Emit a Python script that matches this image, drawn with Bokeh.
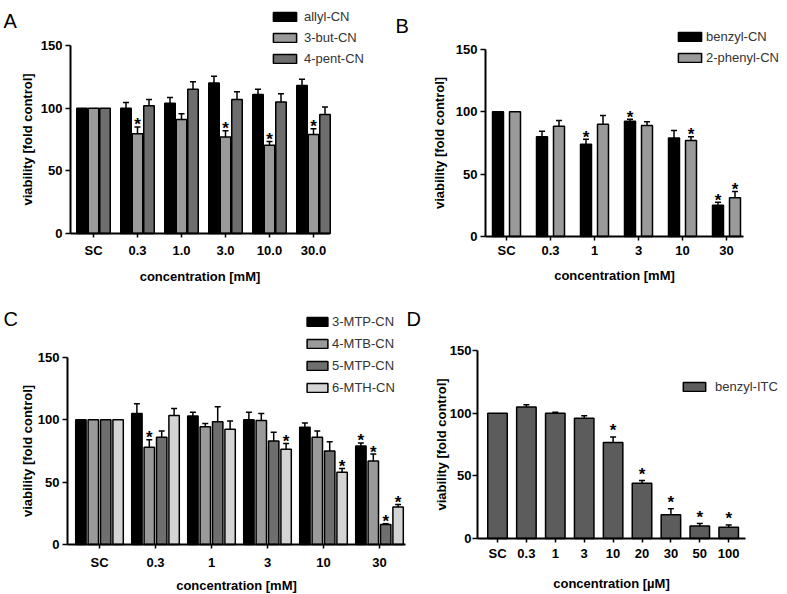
from bokeh.plotting import figure
from bokeh.models import (Range1d, FixedTicker, Legend, LegendItem, Label, Whisker,
                          TeeHead, ColumnDataSource, CustomJSTickFormatter)
from bokeh.layouts import column, row
from bokeh.embed import file_html
from bokeh.resources import INLINE
from bokeh.core.properties import value

FONT = "Liberation Sans"

# ---------------- data ----------------
# Panel A
A_groups = ["SC", "0.3", "1.0", "3.0", "10.0", "30.0"]
A_names = ["allyl-CN", "3-but-CN", "4-pent-CN"]
A_allyl = [100, 100, 104, 120, 111, 118]
A_allyl_err = [0, 4.5, 4.5, 5.5, 4, 5]
A_allyl_sig = [0, 0, 0, 0, 0, 0]
A_but = [100, 79.5, 91, 77, 70.5, 79]
A_but_err = [0, 5.5, 4.5, 5, 3, 4.5]
A_but_sig = [0, 1, 0, 1, 1, 1]
A_pent = [100, 102, 115, 107, 105, 95]
A_pent_err = [0, 5, 6, 6, 6.5, 6]
A_pent_sig = [0, 0, 0, 0, 0, 0]

# Panel B
B_groups = ["SC", "0.3", "1", "3", "10", "30"]
B_names = ["benzyl-CN", "2-phenyl-CN"]
B_benzyl = [100, 80, 74, 92.5, 79, 25]
B_benzyl_err = [0, 4.5, 4, 1.5, 6, 2.5]
B_benzyl_sig = [0, 0, 1, 1, 0, 1]
B_phenyl = [100, 88.5, 90, 89, 77, 31]
B_phenyl_err = [0, 4.5, 7, 3, 3, 5]
B_phenyl_sig = [0, 0, 0, 0, 1, 1]

# Panel C
C_groups = ["SC", "0.3", "1", "3", "10", "30"]
C_names = ["3-MTP-CN", "4-MTB-CN", "5-MTP-CN", "6-MTH-CN"]
C_mtp3 = [100, 105, 103, 100, 94, 79]
C_mtp3_err = [0, 8, 3, 6, 3.5, 2.5]
C_mtp3_sig = [0, 0, 0, 0, 0, 1]
C_mtb4 = [100, 78, 94.5, 99.5, 86, 67]
C_mtb4_err = [0, 6, 2.5, 5.5, 5, 5.5]
C_mtb4_sig = [0, 1, 0, 0, 0, 1]
C_mtp5 = [100, 86, 98.5, 83, 75, 16]
C_mtp5_err = [0, 5, 12, 7, 7.5, 0.7]
C_mtp5_sig = [0, 0, 0, 0, 0, 1]
C_mth6 = [100, 103.5, 92.5, 76.5, 58, 30]
C_mth6_err = [0, 5.5, 6.5, 4.5, 3, 2]
C_mth6_sig = [0, 0, 0, 1, 1, 1]

# Panel D
D_groups = ["SC", "0.3", "1", "3", "10", "20", "30", "50", "100"]
D_names = ["benzyl-ITC"]
D_itc = [100, 105, 100, 96, 76.5, 44, 19, 10, 9]
D_itc_err = [0, 1.8, 0.8, 2, 4.5, 2.3, 4.8, 2, 1.8]
D_itc_sig = [0, 0, 0, 0, 1, 1, 1, 1, 1]

Y_TICKS = [0, 50, 100, 150]
Y_MAX = 150


def make_panel(geom, groups, series, errs, sigs, names, colors, offsets_px, bar_px,
               legend_geom, letter, letter_xy, xlabel, stand):
    # geom: canvas page origin/size, first tick px, tick step px, axis extents px
    fx, fy, W, H, t0, step, ax_l, ax_r, y0px, y150px = geom
    k = (y0px - y150px) / Y_MAX
    xs = -(t0 - fx) / step
    xe = xs + W / step
    ye = Y_MAX + (y150px - fy) / k
    ys = -(fy + H - y0px) / k
    xl = (ax_l - t0) / step
    xr = (ax_r - t0) / step

    p = figure(width=W, height=H, output_backend="svg", toolbar_location=None,
               title=None, x_range=Range1d(xs, xe), y_range=Range1d(ys, ye),
               min_border=0)
    p.outline_line_color = None
    p.xgrid.visible = False
    p.ygrid.visible = False
    p.background_fill_color = "white"
    p.border_fill_color = "white"

    items = []
    n = len(groups)
    for vals, err, sig, name, col, off in zip(series, errs, sigs, names, colors, offsets_px):
        xsr = [i + off / step for i in range(n)]
        r = p.vbar(x=xsr, top=vals, bottom=0, width=bar_px / step, fill_color=col,
                   line_color="black", line_width=1.5)
        items.append(LegendItem(label=name, renderers=[r]))
        wx = [x for x, e in zip(xsr, err) if e > 0]
        wl = [v for v, e in zip(vals, err) if e > 0]
        wu = [v + e for v, e in zip(vals, err) if e > 0]
        src = ColumnDataSource(dict(x=wx, lower=wl, upper=wu))
        w = Whisker(base="x", lower="lower", upper="upper", source=src,
                    dimension="height", line_width=1.5, line_color="black",
                    lower_head=None,
                    upper_head=TeeHead(size=6, line_width=1.5, line_color="black"))
        p.add_layout(w)
        sx = [x for x, s in zip(xsr, sig) if s]
        sy = [v + e for v, e, s in zip(vals, err, sig) if s]
        if sx:
            p.text(x=sx, y=sy, text=["*"] * len(sx), text_align="center",
                   text_baseline="alphabetic", y_offset=-stand["star"],
                   text_font=value(FONT), text_font_style="bold",
                   text_font_size="17px", text_color="black")

    lx, ly, gw, lstand, lspace = legend_geom
    leg = Legend(items=items, location=(lx, ly), orientation="vertical",
                 glyph_width=gw, glyph_height=11, label_text_font=FONT,
                 label_text_font_size="13px", label_text_color="#333333",
                 label_standoff=lstand, spacing=lspace, padding=0, margin=0,
                 label_height=15, border_line_alpha=0, background_fill_alpha=0)
    p.add_layout(leg)

    for ax in (p.xaxis[0], p.yaxis[0]):
        ax.axis_line_width = 2
        ax.axis_line_color = "black"
        ax.major_tick_line_width = 1.5
        ax.major_tick_line_color = "black"
        ax.minor_tick_line_color = None
        ax.major_tick_in = 0
        ax.major_label_text_font = FONT
        ax.major_label_text_font_style = "bold"
        ax.major_label_text_font_size = "13px"
        ax.major_label_text_color = "black"
        ax.axis_label_text_font = FONT
        ax.axis_label_text_font_style = "bold"
        ax.axis_label_text_font_size = "13px"
        ax.axis_label_text_color = "black"

    p.yaxis.fixed_location = xl
    p.yaxis.bounds = (0, Y_MAX)
    p.yaxis.ticker = FixedTicker(ticks=Y_TICKS)
    p.yaxis.major_tick_out = 5
    p.yaxis.major_label_standoff = stand["ytick"]
    p.yaxis.axis_label = "viability [fold control]"
    p.yaxis.axis_label_standoff = stand["ylab"]

    p.xaxis.fixed_location = 0
    p.xaxis.bounds = (xl, xr)
    p.xaxis.ticker = FixedTicker(ticks=list(range(n)))
    p.xaxis.formatter = CustomJSTickFormatter(args=dict(labels=groups),
                                              code="return labels[Math.round(tick)] || '';")
    p.xaxis.major_tick_out = 4
    p.xaxis.major_label_standoff = stand["xtick"]
    p.xaxis.axis_label = xlabel
    p.xaxis.axis_label_standoff = stand["xlab"]

    p.add_layout(Label(x=letter_xy[0], y=letter_xy[1], x_units="screen",
                       y_units="screen", text=letter, text_font=FONT,
                       text_font_size="20px", text_color="black",
                       text_baseline="alphabetic"))
    return p


pA = make_panel((0, 0, 392, 290, 93, 44, 70, 329, 233, 45), A_groups,
                [A_allyl, A_but, A_pent], [A_allyl_err, A_but_err, A_pent_err],
                [A_allyl_sig, A_but_sig, A_pent_sig], A_names,
                ["#000000", "#9a9a9a", "#6e6e6e"], [-11.5, 0, 11.5], 10.5,
                (270, 224, 29, 5, 6), "A", (3, 270), "concentration [mM]",
                dict(star=2, ytick=3, ylab=3, xtick=5, xlab=8))

pB = make_panel((392, 0, 395, 290, 506, 44, 485, 743, 236, 49), B_groups,
                [B_benzyl, B_phenyl], [B_benzyl_err, B_phenyl_err],
                [B_benzyl_sig, B_phenyl_sig], B_names,
                ["#000000", "#9a9a9a"], [-8.5, 8.5], 11,
                (283, 225, 29, 2, 6), "B", (3, 265), "concentration [mM]",
                dict(star=2, ytick=3, ylab=6, xtick=2, xlab=7))

pC = make_panel((0, 290, 406, 304, 99, 56, 67, 405, 544, 357), C_groups,
                [C_mtp3, C_mtb4, C_mtp5, C_mth6],
                [C_mtp3_err, C_mtb4_err, C_mtp5_err, C_mth6_err],
                [C_mtp3_sig, C_mtb4_sig, C_mtp5_sig, C_mth6_sig], C_names,
                ["#000000", "#9a9a9a", "#6e6e6e", "#d4d4d4"],
                [-18.6, -6.2, 6.2, 18.6], 10.4,
                (304, 199, 26, 2, 7), "C", (3, 276), "concentration [mM]",
                dict(star=2, ytick=3, ylab=0, xtick=6, xlab=5))

pD = make_panel((406, 290, 381, 304, 497, 28.9, 477, 745, 538, 350), D_groups,
                [D_itc], [D_itc_err], [D_itc_sig], D_names,
                ["#5c5c5c"], [0], 19.5,
                (274, 200, 28, 7, 6), "D", (0, 276), "concentration [µM]",
                dict(star=6, ytick=1, ylab=-2, xtick=3, xlab=12))

layout = column(row(pA, pB), row(pC, pD))

open("out.html", "w").write(file_html(layout, INLINE))
